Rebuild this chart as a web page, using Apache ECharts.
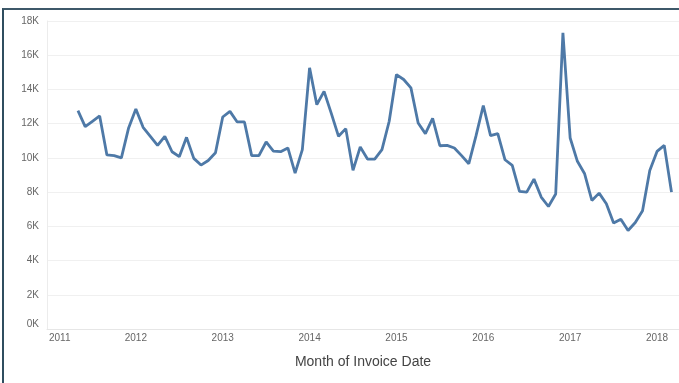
<!DOCTYPE html>
<html>
<head>
<meta charset="utf-8">
<script src="https://cdn.jsdelivr.net/npm/echarts@6/dist/echarts.min.js"></script>
<style>
  html, body { margin: 0; padding: 0; background: #fff; }
  #wrap { position: relative; width: 679px; height: 383px; }
  #chart { position: absolute; left: 0; top: 0; width: 679px; height: 383px; }
  #frame {
    position: absolute; left: 2px; top: 8px; right: 0; bottom: 0;
    border-top: 2px solid #3d5869; border-left: 2px solid #2f4d5f;
    pointer-events: none;
  }
</style>
</head>
<body>
<div id="wrap">
  <div id="chart"></div>
  <div id="frame"></div>
</div>
<script>
// monthly values by year (first month given per year)
const sales2011 = [12760, 11830, 12140, 12450, 10170, 10130, 10000, 11750] // May-Dec
const sales2012 = [12860, 11790, 11260, 10730, 11260, 10360, 10070, 11200, 9970, 9580, 9850, 10300]
const sales2013 = [12390, 12720, 12100, 12100, 10130, 10130, 10930, 10400, 10360, 10580, 9110, 10480]
const sales2014 = [15260, 13110, 13890, 12600, 11260, 11710, 9270, 10640, 9930, 9930, 10480, 12140]
const sales2015 = [14870, 14580, 14090, 12040, 11420, 12310, 10710, 10730, 10580, 10130, 9660, 11300]
const sales2016 = [13060, 11300, 11420, 9890, 9560, 8040, 8000, 8760, 7710, 7160, 7890, 17310]
const sales2017 = [11160, 9800, 9070, 7510, 7940, 7320, 6190, 6420, 5760, 6220, 6910, 9270]
const sales2018 = [10380, 10730, 8000] // Jan-Mar

const years = [2011, 2012, 2013, 2014, 2015, 2016, 2017, 2018]
const firstMonth = [5, 1, 1, 1, 1, 1, 1, 1]
const salesByYear = [sales2011, sales2012, sales2013, sales2014, sales2015, sales2016, sales2017, sales2018]
const yearTicks = [2011, 2012, 2013, 2014, 2015, 2016, 2017, 2018]

// x is measured in years (Jan 1 = whole number)
const xMin = 2010.977
const xMax = 2018.253

const points = []
years.forEach((y, i) => {
  salesByYear[i].forEach((v, j) => {
    points.push([y + (firstMonth[i] - 1 + j) / 12, v])
  })
})

const chart = echarts.init(document.getElementById('chart'), null, { renderer: 'canvas' })

chart.setOption({
  animation: false,
  textStyle: { fontFamily: 'Liberation Sans, Arial, sans-serif' },
  grid: { left: 47, right: 0, top: 21, bottom: 54, containLabel: false },
  xAxis: {
    type: 'value',
    min: xMin,
    max: xMax,
    name: 'Month of Invoice Date',
    nameLocation: 'middle',
    nameGap: 26,
    nameTextStyle: { color: '#444', fontSize: 14 },
    axisLine: { show: true, lineStyle: { color: '#e6e6e6' } },
    axisTick: { show: false },
    splitLine: { show: false },
    axisLabel: {
      customValues: yearTicks,
      formatter: (v) => String(Math.round(v)),
      color: '#666',
      fontSize: 10,
      margin: 4,
      alignMinLabel: 'left',
      hideOverlap: false
    }
  },
  yAxis: {
    type: 'value',
    min: 0,
    max: 18000,
    interval: 2000,
    axisLine: { show: true, lineStyle: { color: '#ececec' } },
    axisTick: { show: false },
    splitLine: { lineStyle: { color: '#f0f0f0' } },
    axisLabel: {
      color: '#666',
      fontSize: 10,
      margin: 8,
      verticalAlignMinLabel: 'bottom',
      formatter: (v) => (v / 1000) + 'K'
    }
  },
  series: [{
    type: 'line',
    data: points,
    showSymbol: false,
    symbol: 'none',
    lineStyle: { color: '#4e79a7', width: 2.8 },
    itemStyle: { color: '#4e79a7' }
  }]
})
</script>
</body>
</html>
